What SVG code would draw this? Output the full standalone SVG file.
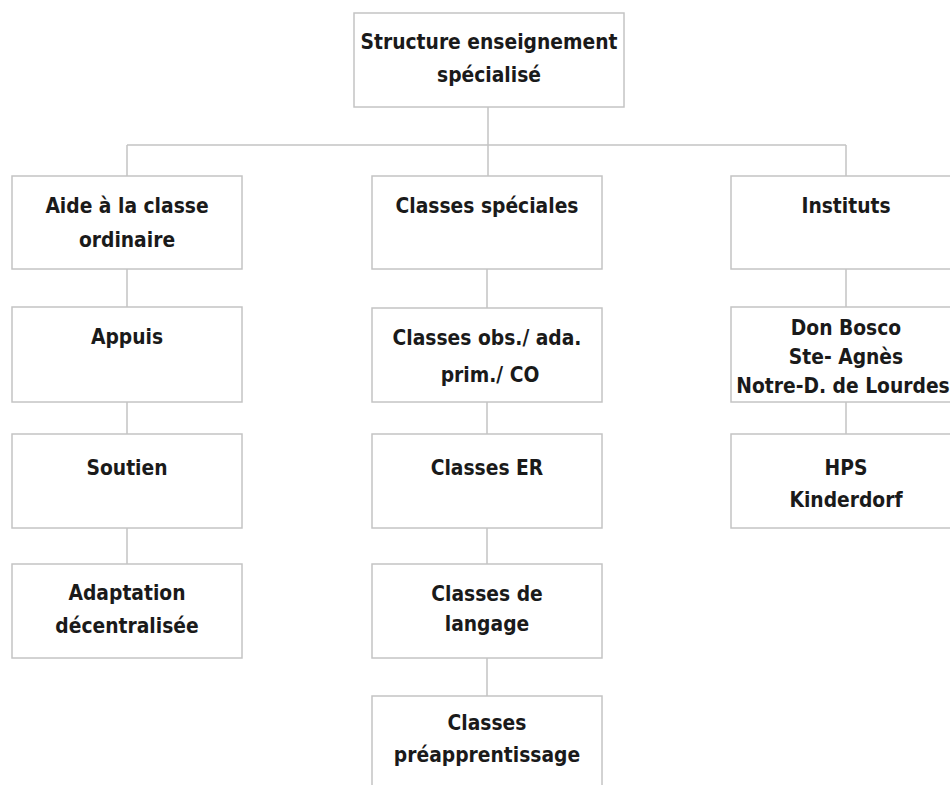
<svg xmlns="http://www.w3.org/2000/svg" width="950" height="785" viewBox="0 0 950 785">
<style>
.box{fill:#fff;stroke:#c4c4c4;stroke-width:1.5}
.c{fill:none;stroke:#c4c4c4;stroke-width:1.5}
text{font-family:"DejaVu Sans Condensed","DejaVu Sans",sans-serif;font-weight:bold;font-size:20.8px;fill:#1a1a1a;text-anchor:middle}
</style>
<rect width="950" height="785" fill="#fff"/>
<g id="connectors">
<path class="c" d="M488 107V176M127 145H846M127 145V176M846 145V176"/>
<path class="c" d="M127 269V307M127 402V434M127 528V564"/>
<path class="c" d="M487 269V308M487 402V434M487 528V564M487 658V696"/>
<path class="c" d="M846 269V307M846 402V434"/>
</g>
<g id="root"><rect class="box" x="354" y="13" width="270" height="94"/><text x="489" y="49">Structure enseignement</text><text x="489" y="82">spécialisé</text></g>
<g id="aide"><rect class="box" x="12" y="176" width="230" height="93"/><text x="127" y="213">Aide à la classe</text><text x="127" y="247">ordinaire</text></g>
<g id="speciales"><rect class="box" x="372" y="176" width="230" height="93"/><text x="487" y="213">Classes spéciales</text></g>
<g id="instituts"><rect class="box" x="731" y="176" width="230" height="93"/><text x="846" y="213">Instituts</text></g>
<g id="appuis"><rect class="box" x="12" y="307" width="230" height="95"/><text x="127" y="344">Appuis</text></g>
<g id="soutien"><rect class="box" x="12" y="434" width="230" height="94"/><text x="127" y="475">Soutien</text></g>
<g id="adaptation"><rect class="box" x="12" y="564" width="230" height="94"/><text x="127" y="600">Adaptation</text><text x="127" y="633">décentralisée</text></g>
<g id="obs"><rect class="box" x="372" y="308" width="230" height="94"/><text x="487" y="345">Classes obs./ ada.</text><text x="490" y="382">prim./ CO</text></g>
<g id="er"><rect class="box" x="372" y="434" width="230" height="94"/><text x="487" y="475">Classes ER</text></g>
<g id="langage"><rect class="box" x="372" y="564" width="230" height="94"/><text x="487" y="601">Classes de</text><text x="487" y="631">langage</text></g>
<g id="preapp"><rect class="box" x="372" y="696" width="230" height="110"/><text x="487" y="730">Classes</text><text x="487" y="762">préapprentissage</text></g>
<g id="donbosco"><rect class="box" x="731" y="307" width="230" height="95"/><text x="846" y="335">Don Bosco</text><text x="846" y="364">Ste- Agnès</text><text x="843" y="393" font-size="20.4">Notre-D. de Lourdes</text></g>
<g id="hps"><rect class="box" x="731" y="434" width="230" height="94"/><text x="846" y="475">HPS</text><text x="846" y="507">Kinderdorf</text></g>
</svg>
